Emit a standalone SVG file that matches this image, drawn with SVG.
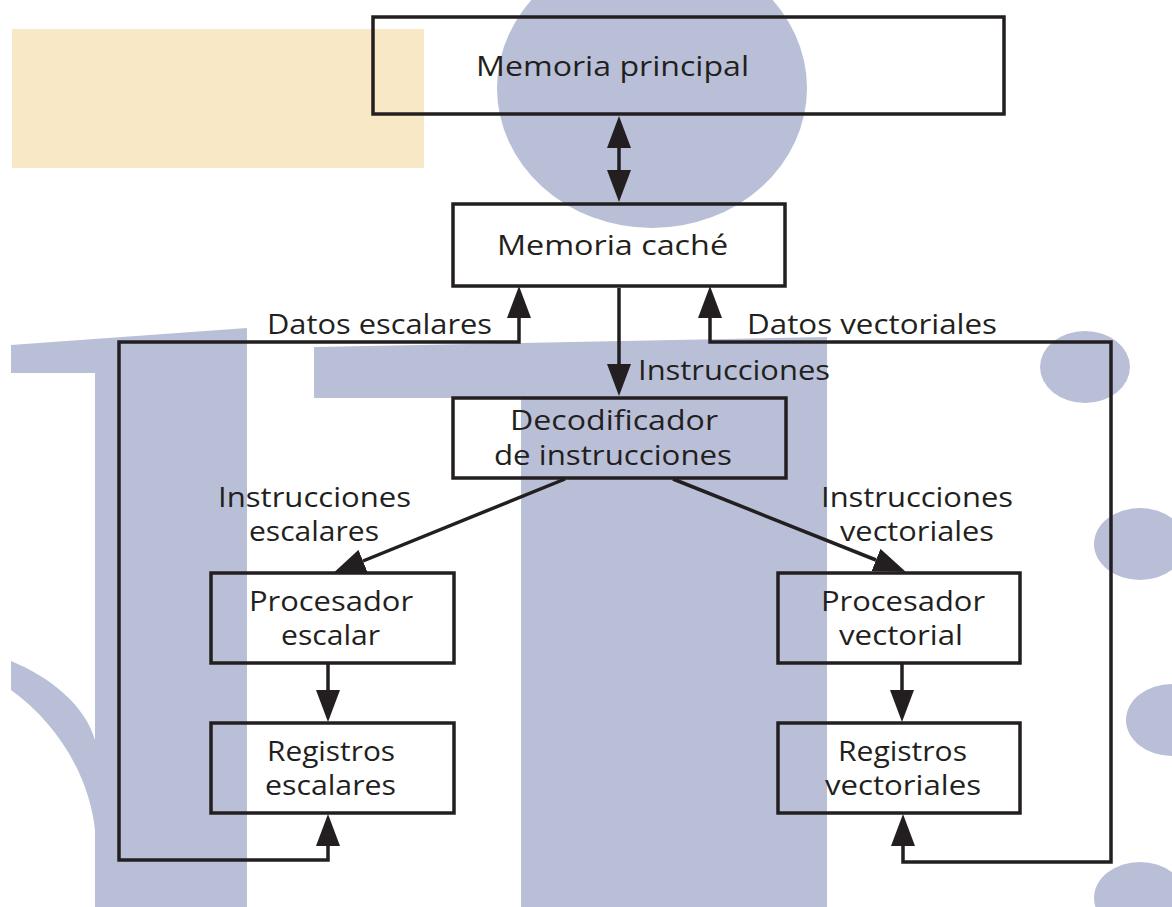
<svg xmlns="http://www.w3.org/2000/svg" width="1172" height="907" viewBox="0 0 1172 907">
  <style>
    .bg { fill: #BABFD8; }
    .box { fill: none; stroke: #231F20; stroke-width: 3.5; }
    .wire { fill: none; stroke: #231F20; stroke-width: 3.5; stroke-linejoin: miter; }
    text { font-family: "Open Sans", "Liberation Sans", sans-serif; font-size: 27px; font-weight: 500; fill: #231F20; }
  </style>
  <defs>
    <marker id="head" viewBox="0 0 32 24" refX="0" refY="12" markerWidth="32" markerHeight="24" markerUnits="userSpaceOnUse" orient="auto-start-reverse">
      <path d="M0,0 L32,12 L0,24 Z" fill="#231F20"/>
    </marker>
  </defs>

  <!-- background decoration -->
  <g id="backdrop">
    <rect x="12" y="29" width="412" height="139" fill="#F9E8C6"/>
    <ellipse class="bg" cx="652" cy="88" rx="155" ry="140"/>
    <polygon class="bg" points="11,345 247,328 247,907 95,907 95,373 11,373"/>
    <path class="bg" d="M11,661 C50,677 85,705 95,740 L95,830 C90,780 60,725 11,690 Z"/>
    <polygon class="bg" points="314,347 827,337 827,907 521,907 521,398 314,398"/>
    <ellipse class="bg" cx="1085" cy="367" rx="45" ry="36"/>
    <ellipse class="bg" cx="1140" cy="544" rx="46" ry="36"/>
    <ellipse class="bg" cx="1172" cy="720" rx="46" ry="36"/>
    <ellipse class="bg" cx="1140" cy="898" rx="46" ry="36"/>
  </g>

  <!-- connectors; labels are widened with a horizontal scale of 1.18 -->
  <g id="connectors">
    <path class="wire" d="M619,148 L619,170" marker-start="url(#head)" marker-end="url(#head)"/>
    <path class="wire" d="M619,288 L619,364" marker-end="url(#head)"/>
    <path class="wire" d="M519,318 L519,342 L119,342 L119,860 L328,860 L328,846" marker-start="url(#head)" marker-end="url(#head)"/>
    <path class="wire" d="M710,318 L710,342 L1111,342 L1111,862 L903,862 L903,846" marker-start="url(#head)" marker-end="url(#head)"/>
    <path class="wire" d="M565,479 L363,561" marker-end="url(#head)"/>
    <path class="wire" d="M673,479 L876,560" marker-end="url(#head)"/>
    <path class="wire" d="M328,663 L328,690" marker-end="url(#head)"/>
    <path class="wire" d="M902,663 L902,690" marker-end="url(#head)"/>
    <text transform="translate(267,334) scale(1.18,1)" textLength="190.7" lengthAdjust="spacingAndGlyphs">Datos escalares</text>
    <text transform="translate(747,334) scale(1.18,1)" textLength="211.9" lengthAdjust="spacingAndGlyphs">Datos vectoriales</text>
    <text transform="translate(638,380) scale(1.18,1)" textLength="162.7" lengthAdjust="spacingAndGlyphs">Instrucciones</text>
    <text transform="translate(218,507) scale(1.18,1)" textLength="163.6" lengthAdjust="spacingAndGlyphs">Instrucciones</text>
    <text transform="translate(249,541) scale(1.18,1)" textLength="110.2" lengthAdjust="spacingAndGlyphs">escalares</text>
    <text transform="translate(821,507) scale(1.18,1)" textLength="162.7" lengthAdjust="spacingAndGlyphs">Instrucciones</text>
    <text transform="translate(840,541) scale(1.18,1)" textLength="130.5" lengthAdjust="spacingAndGlyphs">vectoriales</text>
  </g>

  <g id="memoria-principal">
    <rect class="box" x="373" y="17" width="631" height="97"/>
    <text transform="translate(476,76) scale(1.18,1)" style="font-size:28px" textLength="231.4" lengthAdjust="spacingAndGlyphs">Memoria principal</text>
  </g>

  <g id="memoria-cache">
    <rect class="box" x="453" y="204" width="332" height="82"/>
    <text transform="translate(497,255) scale(1.18,1)" textLength="195.8" lengthAdjust="spacingAndGlyphs">Memoria caché</text>
  </g>

  <g id="decodificador">
    <rect class="box" x="453" y="398" width="333" height="80"/>
    <text transform="translate(510,430) scale(1.18,1)" textLength="176.3" lengthAdjust="spacingAndGlyphs">Decodificador</text>
    <text transform="translate(494,465) scale(1.18,1)" textLength="201.7" lengthAdjust="spacingAndGlyphs">de instrucciones</text>
  </g>

  <g id="procesador-escalar">
    <rect class="box" x="211" y="573" width="243" height="90"/>
    <text transform="translate(249,611) scale(1.18,1)" textLength="139" lengthAdjust="spacingAndGlyphs">Procesador</text>
    <text transform="translate(281,645) scale(1.18,1)" textLength="83.9" lengthAdjust="spacingAndGlyphs">escalar</text>
  </g>

  <g id="registros-escalares">
    <rect class="box" x="211" y="723" width="243" height="90"/>
    <text transform="translate(267,761) scale(1.18,1)" textLength="108.5" lengthAdjust="spacingAndGlyphs">Registros</text>
    <text transform="translate(265,795) scale(1.18,1)" textLength="111" lengthAdjust="spacingAndGlyphs">escalares</text>
  </g>

  <g id="procesador-vectorial">
    <rect class="box" x="778" y="573" width="242" height="90"/>
    <text transform="translate(821,611) scale(1.18,1)" textLength="139" lengthAdjust="spacingAndGlyphs">Procesador</text>
    <text transform="translate(839,645) scale(1.18,1)" textLength="105.1" lengthAdjust="spacingAndGlyphs">vectorial</text>
  </g>

  <g id="registros-vectoriales">
    <rect class="box" x="778" y="723" width="242" height="90"/>
    <text transform="translate(838,761) scale(1.18,1)" textLength="109.3" lengthAdjust="spacingAndGlyphs">Registros</text>
    <text transform="translate(825,795) scale(1.18,1)" textLength="132.2" lengthAdjust="spacingAndGlyphs">vectoriales</text>
  </g>
</svg>
